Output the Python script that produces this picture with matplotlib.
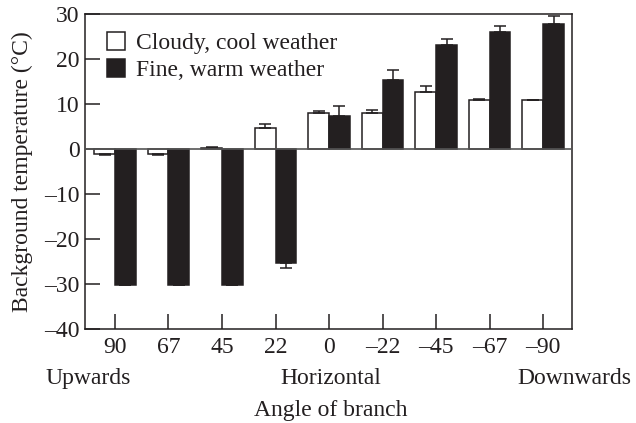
import numpy as np
import matplotlib.pyplot as plt

angles = ['90', '67', '45', '22', '0', '\u201322', '\u201345', '\u201367', '\u201390']
cloudy = [-1.2, -1.2, 0.3, 4.7, 8.1, 8.1, 12.7, 10.9, 10.8]
cloudy_err = [0.1, 0.1, 0.1, 0.8, 0.3, 0.6, 1.4, 0.1, 0.1]
fine = [-30.2, -30.2, -30.2, -25.3, 7.3, 15.3, 23.2, 25.9, 27.8]
fine_err = [0.0, 0.0, 0.0, 1.2, 2.3, 2.3, 1.3, 1.5, 1.7]
yticks = [30, 20, 10, 0, -10, -20, -30, -40]
ytick_labels = ['30', '20', '10', '0', '\u201310', '\u201320', '\u201330', '\u201340']

ink = '#231f20'
plt.rcParams['font.family'] = ['Liberation Serif', 'DejaVu Serif']
plt.rcParams['font.size'] = 17
plt.rcParams['text.color'] = ink


def one_sided(values, errs):
    """Error only on the side away from zero."""
    lo = [e if v < 0 else 0 for v, e in zip(values, errs)]
    hi = [e if v >= 0 else 0 for v, e in zip(values, errs)]
    return [lo, hi]


fig = plt.figure(figsize=(6.36, 4.23), dpi=100)
ax = fig.add_axes([85 / 636, 94 / 423, 487 / 636, 315 / 423])

x = np.arange(len(angles))
w = 0.39
err_kw = dict(ecolor=ink, elinewidth=1.1, capsize=4.5, capthick=1.1)
b1 = ax.bar(x - w / 2, cloudy, w, color='white', edgecolor=ink, linewidth=1.1,
            yerr=one_sided(cloudy, cloudy_err), error_kw=err_kw,
            label='Cloudy, cool weather', zorder=2)
b2 = ax.bar(x + w / 2, fine, w, color=ink, edgecolor=ink, linewidth=1.1,
            yerr=one_sided(fine, fine_err), error_kw=err_kw,
            label='Fine, warm weather', zorder=2)
ax.axhline(0, color='#555555', linewidth=1.2, zorder=3)

ax.set_xlim(-0.56, 8.54)
ax.set_ylim(-40, 30)
ax.set_xticks(x)
ax.set_xticklabels(angles)
ax.set_yticks(yticks)
ax.set_yticklabels(ytick_labels)
ax.tick_params(axis='x', direction='in', length=11, width=1.1, color=ink, pad=6, labelcolor=ink)
ax.tick_params(axis='y', direction='in', length=11, width=1.1, color=ink, pad=4, labelcolor=ink)
for s in ax.spines.values():
    s.set_color(ink)
    s.set_linewidth(1.1)

ax.set_ylabel('Background temperature (\u00b0C)', color=ink)
ax.yaxis.set_label_coords(-52 / 487, 0.5)

fig.text(45 / 636, 1 - 378 / 423, 'Upwards', ha='left', va='center')
fig.text(331 / 636, 1 - 378 / 423, 'Horizontal', ha='center', va='center')
fig.text(631 / 636, 1 - 378 / 423, 'Downwards', ha='right', va='center')
fig.text(331 / 636, 1 - 410 / 423, 'Angle of branch', ha='center', va='center')

ax.legend(handles=[b1, b2], loc='upper left', bbox_to_anchor=(22 / 487, 1 - 18 / 315),
          frameon=False, borderaxespad=0, borderpad=0, handlelength=0.78,
          handleheight=0.78, handletextpad=0.45, labelspacing=0.2)

fig.savefig('out.png', dpi=100)
